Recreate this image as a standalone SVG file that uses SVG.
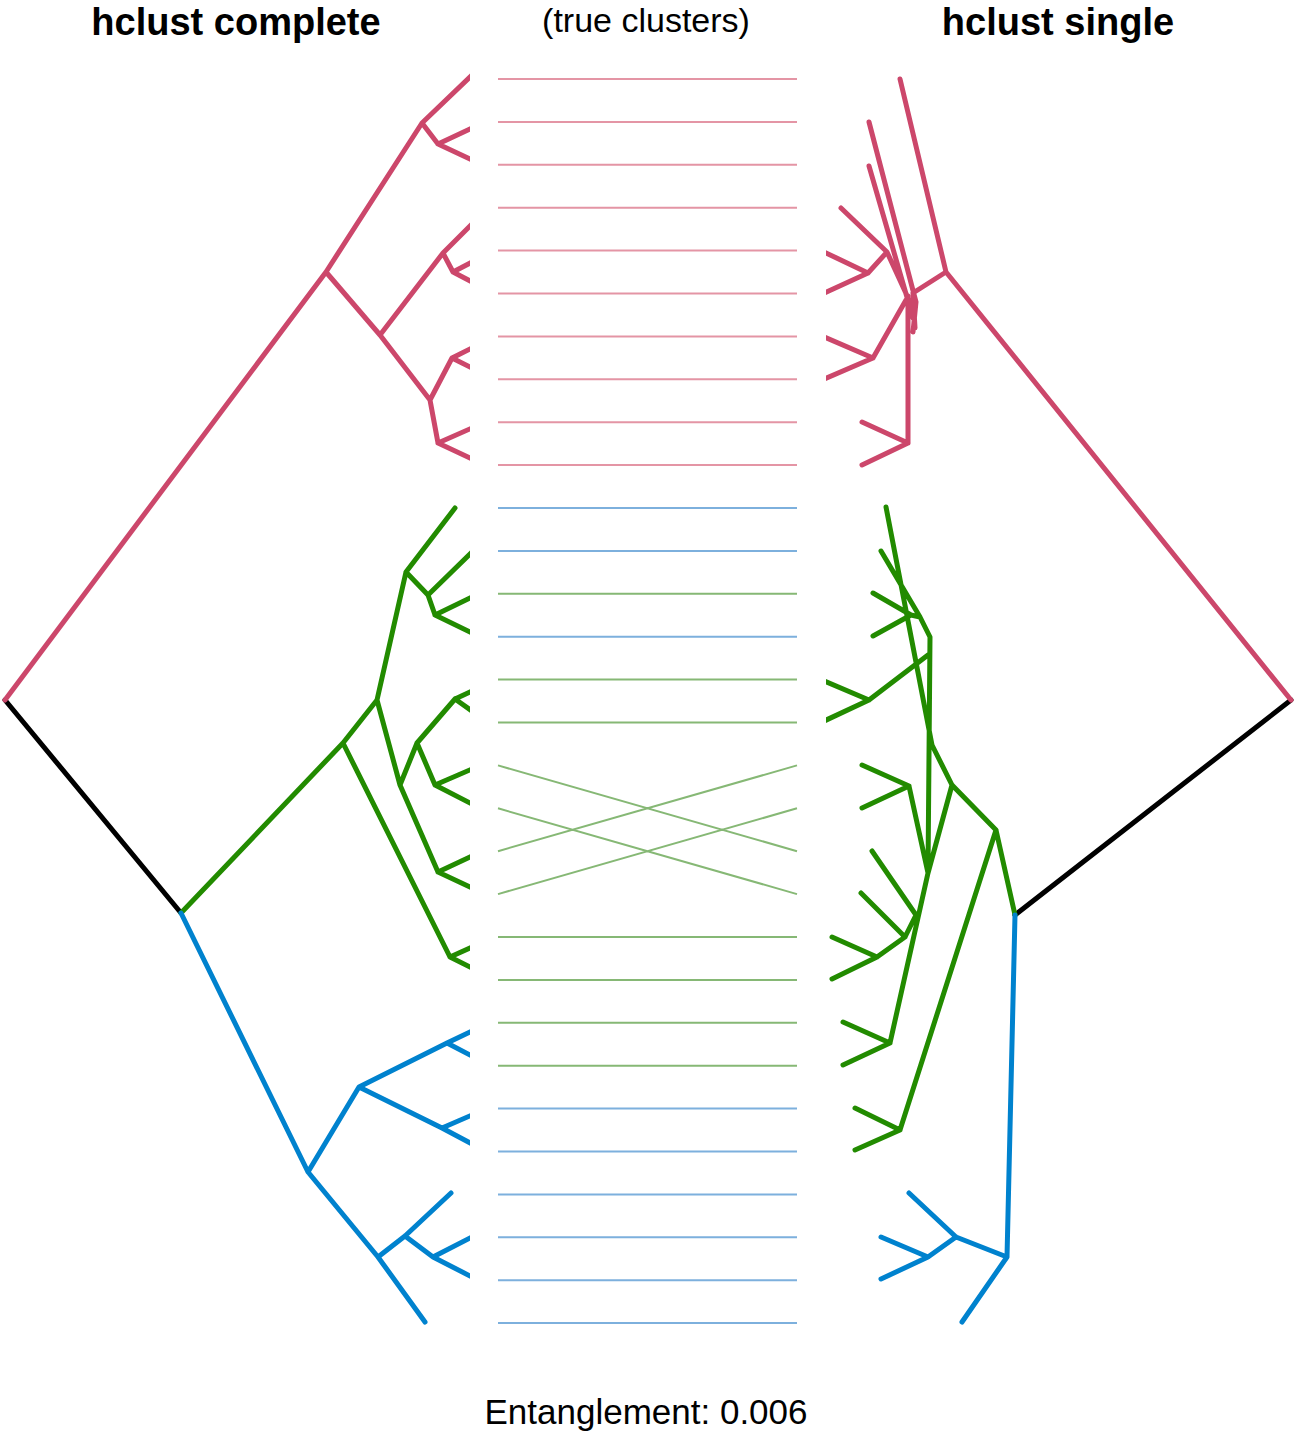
<svg xmlns="http://www.w3.org/2000/svg" width="1296" height="1440" viewBox="0 0 1296 1440">
<style>
.t{font-family:"Liberation Sans",Arial,sans-serif;fill:#000}
.b{font-weight:bold;font-size:38px}
.d{fill:none;stroke-width:5;stroke-linecap:round;stroke-linejoin:round}
.pk{stroke:#CC476B}.gr{stroke:#228B00}.bl{stroke:#0082CE}.bk{stroke:#000}
.m{stroke-width:2;fill:none}
.mp{stroke:#E495A5}.mg{stroke:#86B875}.mb{stroke:#7DB0DD}
</style>
<defs>
<clipPath id="cl"><rect x="0" y="40" width="470" height="1320"/></clipPath>
<clipPath id="cr"><rect x="826" y="40" width="470" height="1320"/></clipPath>
</defs>
<g id="titles">
<text class="t b" x="236" y="35" text-anchor="middle">hclust complete</text>
<text class="t" x="646" y="32" font-size="34" text-anchor="middle">(true clusters)</text>
<text class="t b" x="1058" y="35" text-anchor="middle">hclust single</text>
<text class="t" x="646" y="1424" font-size="35" text-anchor="middle">Entanglement: 0.006</text>
</g>
<g id="connectors">
<path class="m mp" d="M498 79H797M498 121.9H797M498 164.8H797M498 207.7H797M498 250.6H797M498 293.5H797M498 336.4H797M498 379.3H797M498 422.2H797M498 465.1H797"/>
<path class="m mb" d="M498 508H797M498 550.9H797M498 636.7H797M498 1108.6H797M498 1151.5H797M498 1194.4H797M498 1237.3H797M498 1280.2H797M498 1323.1H797"/>
<path class="m mg" d="M498 593.8H797M498 679.6H797M498 722.5H797M498 937H797M498 979.9H797M498 1022.8H797M498 1065.7H797"/>
<path class="m mg" d="M498 765.4L797 851.2M498 808.3L797 894.1M498 851.2L797 765.4M498 894.1L797 808.3"/>
</g>
<g id="left-tree" clip-path="url(#cl)">
<path class="d bk" d="M5 700L181 913"/>
<g id="left-pink">
<path class="d pk" d="M5 700L326 272L422 123L472 75M422 123L438 144L472 128M438 144L472 160M326 272L380 335L443 253L472 224M443 253L453 272L472 262M453 272L472 282M380 335L430 400L452 358L472 348M452 358L472 368M430 400L438 443L472 428M438 443L472 459"/>
</g>
<g id="left-green">
<path class="d gr" d="M181 913L343 743L377 700L406 572L455 508M406 572L428 595L472 552M428 595L435 615L472 597M435 615L472 633M377 700L400 785L417 743L455 699L472 691M455 699L472 711M417 743L435 785L472 769M435 785L472 804M400 785L438 872L472 856M438 872L472 888M343 743L450 957L472 947M450 957L472 968"/>
</g>
<g id="left-blue">
<path class="d bl" d="M181 913L308 1172L359 1087L447 1043L472 1031M447 1043L472 1056M359 1087L442 1128L472 1115M442 1128L472 1144M308 1172L378 1257L405 1236L451 1193M405 1236L433 1257L472 1237M433 1257L472 1277M378 1257L425 1322"/>
</g>
</g>
<g id="right-tree" clip-path="url(#cr)">
<path class="d bk" d="M1291 700L1015 915"/>
<g id="right-pink">
<path class="d pk" d="M1291 700L946 272L900 79M946 272L913 293M869 122L916 302M869 166L913 318M841 208L887 252L868 273L822 251M868 273L822 294M887 252L909 300M873 358L822 336M873 358L822 380M873 358L906 300M908 443L862 422M908 443L862 465M908 443L908 296M913 293L915 328M916 302L913 332"/>
</g>
<g id="right-green">
<path class="d gr" d="M1015 915L996 830L900 1130M996 830L952 785L932 745L886 507M881 551L920 617M873 593L911 615L873 636M911 615L920 617L930 637L928 873M869 700L928 655M869 700L822 680M869 700L822 722M952 785L928 873L890 1043M909 786L928 873M909 786L862 765M909 786L862 808M872 851L916 915M861 893L905 937L916 915M877 957L905 937M877 957L832 937M877 957L832 979M890 1043L843 1022M890 1043L843 1065M900 1130L855 1108M900 1130L855 1150"/>
</g>
<g id="right-blue">
<path class="d bl" d="M1015 915L1007 1257L962 1322M1007 1257L956 1237L909 1193M956 1237L928 1257L881 1237M928 1257L881 1279"/>
</g>
</g>
</svg>
